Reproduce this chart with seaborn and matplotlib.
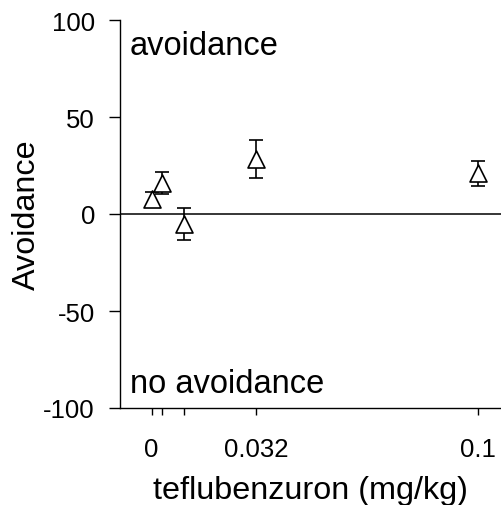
import matplotlib
matplotlib.use("Agg")
import matplotlib.pyplot as plt
import seaborn as sns
import pandas as pd

# data
conc = [0.0, 0.0032, 0.01, 0.032, 0.1]
avoid = [7.5, 16.0, -5.2, 28.4, 20.9]
err = [3.9, 5.7, 8.2, 9.8, 6.4]
xtick_pos = [0.0, 0.0032, 0.01, 0.032, 0.1]
xtick_labels = ["0", "", "", "0.032", "0.1"]
ytick_pos = [-100, -50, 0, 50, 100]
ytick_labels = ["-100", "-50", "0", "50", "100"]

sns.set_theme(style="white")
plt.rcParams["font.family"] = ["Liberation Sans", "DejaVu Sans"]
plt.rcParams["text.color"] = "black"
plt.rcParams["axes.labelcolor"] = "black"

df = pd.DataFrame({"conc": conc, "avoid": avoid, "err": err})

fig = plt.figure(figsize=(5.01, 5.06), dpi=100)
ax = fig.add_axes([120 / 501, 97 / 506, 381 / 501, 388 / 506])

ax.axhline(0, color="black", lw=1.1, zorder=1)
ax.errorbar(df["conc"], df["avoid"], yerr=df["err"], fmt="none",
            ecolor="black", elinewidth=1.2, capsize=5, capthick=1.2, zorder=2)
sns.scatterplot(data=df, x="conc", y="avoid", marker="^", s=150,
                facecolor="white", edgecolor="black", linewidth=1.2,
                ax=ax, zorder=3, legend=False)

ax.set_xlim(-0.00965, 0.1070)
ax.set_ylim(-100, 100)
ax.set_xticks(xtick_pos)
ax.set_xticklabels(xtick_labels)
ax.set_yticks(ytick_pos)
ax.set_yticklabels(ytick_labels)

for side in ["top", "right"]:
    ax.spines[side].set_visible(False)
for side in ["left", "bottom"]:
    ax.spines[side].set_color("black")
    ax.spines[side].set_linewidth(1.0)

ax.tick_params(axis="y", direction="out", length=8, width=1.0, pad=10,
               labelsize=18.5, colors="black", left=True)
ax.tick_params(axis="x", direction="out", length=5, width=1.0, pad=16,
               labelsize=18.5, colors="black", bottom=True)

ax.set_xlabel("teflubenzuron (mg/kg)", fontsize=23.3, color="black", labelpad=10)
ax.set_ylabel("Avoidance", fontsize=23.3, color="black", labelpad=1)

ax.text(10 / 381, 82.5, "avoidance", fontsize=23.5, va="baseline", ha="left",
        color="black", transform=ax.get_yaxis_transform())
ax.text(10 / 381, -91.8, "no avoidance", fontsize=23.5, va="baseline", ha="left",
        color="black", transform=ax.get_yaxis_transform())

ax.grid(False)
fig.savefig("out.png", dpi=100, facecolor="white")
